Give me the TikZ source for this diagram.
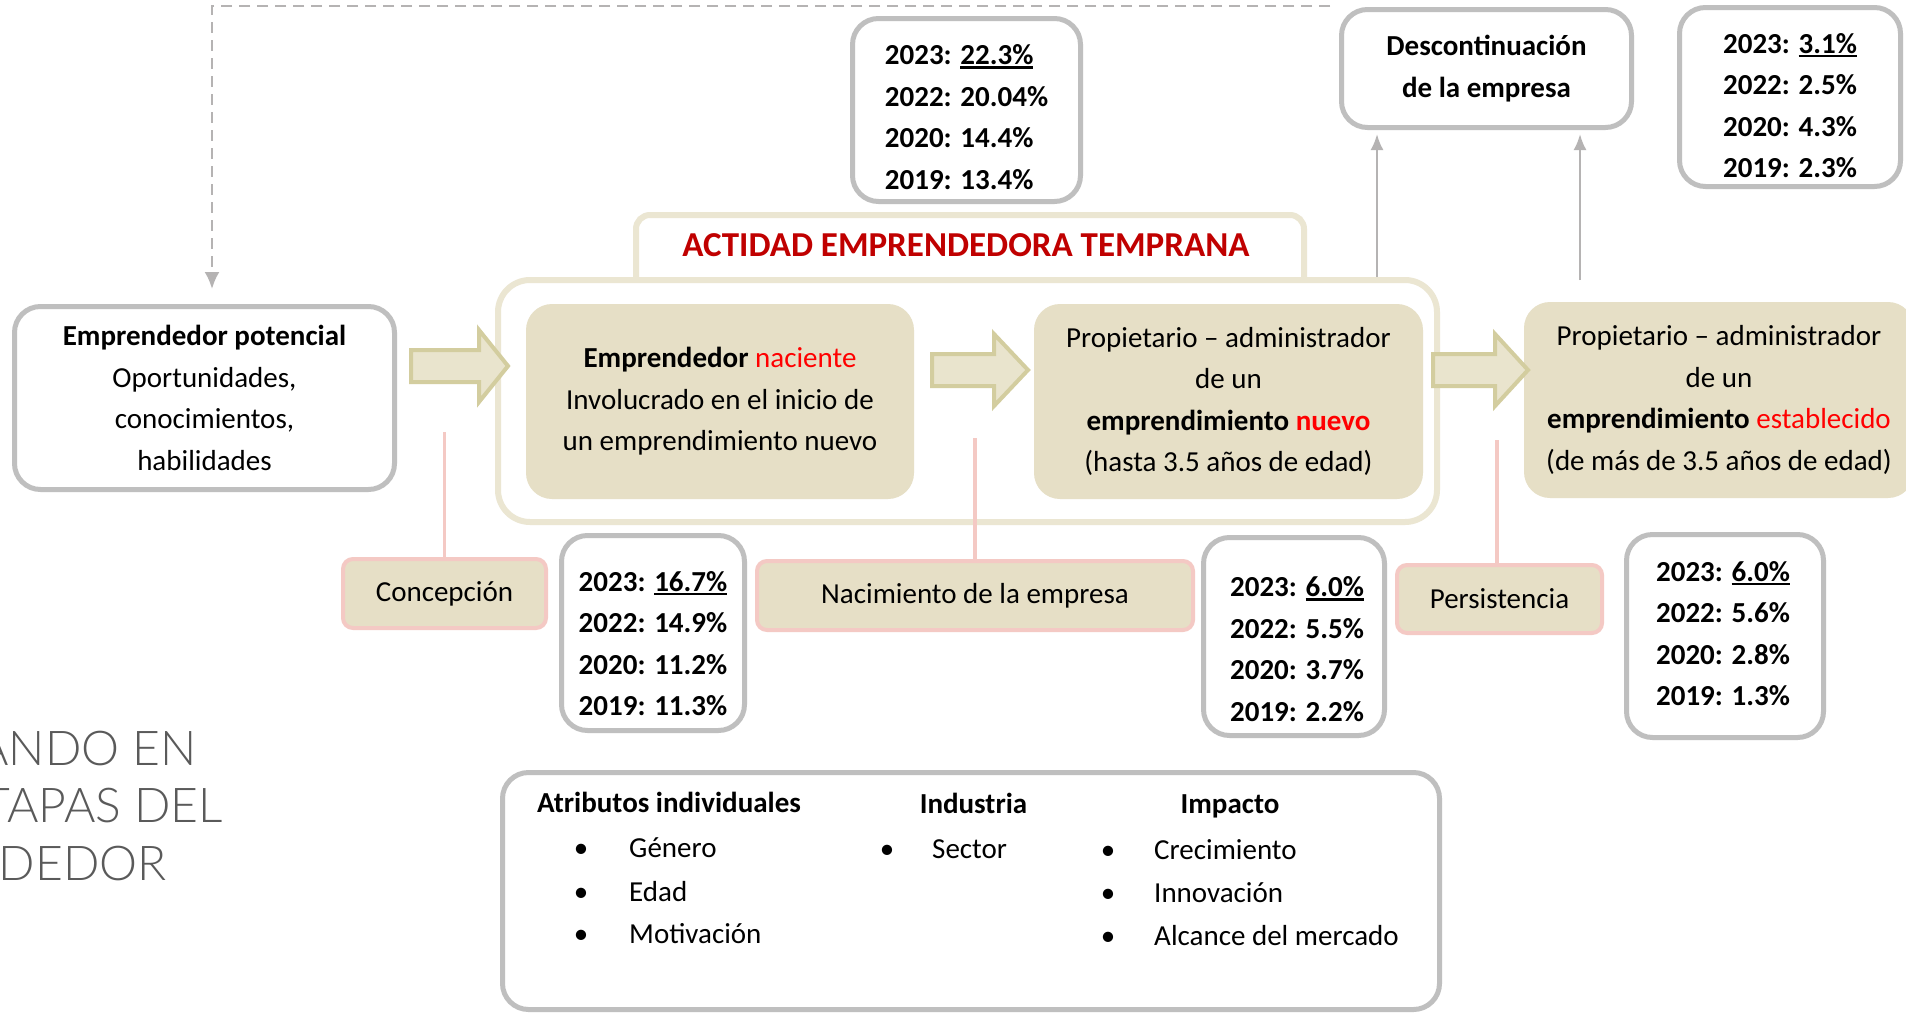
\documentclass[tikz,border=0pt]{standalone}
\usepackage{fontspec}
\setmainfont{Carlito}
\IfFontExistsTF{Lato Light}{\newfontfamily\grayfont{Lato Light}}{\newfontfamily\grayfont{Lato}}
\usetikzlibrary{arrows.meta}
\definecolor{tanfill}{HTML}{E6DFC6}
\definecolor{outerc}{HTML}{EBE6D2}
\definecolor{grayb}{HTML}{BFBFBF}
\definecolor{pinkc}{HTML}{F4C9C4}
\definecolor{arrfill}{HTML}{E9E4CD}
\definecolor{arrdraw}{HTML}{D3CD9F}
\definecolor{titlered}{HTML}{C00000}
\definecolor{brightred}{HTML}{FF0000}
\definecolor{linegray}{HTML}{B5B3B3}
\definecolor{headtxt}{HTML}{5A5A5A}
\newsavebox\myulbox
\newcommand\myul[1]{\sbox\myulbox{#1}\rlap{\rule[-4pt]{\wd\myulbox}{2.2pt}}\usebox\myulbox}
\newcommand\fsz{\fontsize{29}{41.5}\selectfont}
\tikzset{
  graybox/.style={draw=grayb, line width=5pt, rounded corners=26pt, fill=white, inner sep=0pt},
  tanbox/.style={fill=tanfill, rounded corners=26pt, inner sep=0pt, align=center},
  stagebox/.style={fill=tanfill, draw=pinkc, line width=4pt, rounded corners=10pt, inner sep=0pt},
  bigarrow/.style={fill=arrfill, draw=arrdraw, line width=4pt, line join=miter},
  thinarr/.style={draw=linegray, line width=2.5pt, -{Latex[length=16pt,width=13pt]}},
  dashline/.style={draw=linegray, line width=2.5pt, dash pattern=on 11pt off 7pt, -{Latex[length=17pt,width=15pt]}},
  pinkline/.style={draw=pinkc, line width=3.5pt},
  stattxt/.style={align=left, inner sep=0pt, font=\fsz\bfseries},
  itemtxt/.style={anchor=base west, inner sep=0pt},
  bul/.style={anchor=base, inner sep=0pt},
  headtxtst/.style={anchor=base, inner sep=0pt, font=\fsz\bfseries},
  graytxt/.style={anchor=base east, inner sep=0pt, font=\grayfont\fontsize{48}{56}\selectfont, text=headtxt}
}
\begin{document}
\begin{tikzpicture}[x=1pt, y=-1pt, font=\fsz]
\fill[white] (0,0) rectangle (1906,1015);
\useasboundingbox (0,0) rectangle (1906,1015);

% potential entrepreneur
\node[graybox, minimum width=380pt, minimum height=183pt, align=center] (pot) at (204.5,398)
  {\textbf{Emprendedor potencial}\\Oportunidades,\\conocimientos,\\habilidades};

% dashed feedback line
\coordinate (dstart) at (1330,6);
\draw[dashline, shorten >=15pt] (dstart) -| ([xshift=7.5pt]pot.north);

% title tab and outer box
\node[draw=outerc, line width=6pt, rounded corners=14pt, fill=white, minimum width=668pt, minimum height=82pt, inner sep=0pt] (tab) at (970,256) {};
\node[draw=outerc, line width=6pt, rounded corners=32pt, fill=white, minimum width=939pt, minimum height=242pt, inner sep=0pt] (tea) at (967.5,401) {};
\node[font=\fontsize{35}{40}\selectfont\bfseries, text=titlered, inner sep=0pt] (title) at (966,245) {ACTIDAD EMPRENDEDORA TEMPRANA};

% stage boxes
\node[tanbox, minimum width=388pt, minimum height=195pt] (nac) at (720,401.5)
  {\textbf{Emprendedor} \textcolor{brightred}{naciente}\\Involucrado en el inicio de\\un emprendimiento nuevo};
\node[tanbox, minimum width=389pt, minimum height=195pt] (nue) at (1228.5,401.5)
  {Propietario – administrador\\de un\\\textbf{emprendimiento \textcolor{brightred}{nuevo}}\\(hasta 3.5 años de edad)};
\node[tanbox, minimum width=390pt, minimum height=196pt] (est) at (1719,400)
  {Propietario – administrador\\de un\\\textbf{emprendimiento} \textcolor{brightred}{establecido}\\(de más de 3.5 años de edad)};

% block arrows
\draw[bigarrow] (411,350) -- (479,350) -- (479,330) -- (508,366) -- (479,402) -- (479,382) -- (411,382) -- cycle;
\draw[bigarrow] (932,354) -- (994,354) -- (994,334) -- (1028,370) -- (994,406) -- (994,386) -- (932,386) -- cycle;
\draw[bigarrow] (1433,354) -- (1495,354) -- (1495,334) -- (1528,370) -- (1495,406) -- (1495,386) -- (1433,386) -- cycle;

% discontinuation
\node[graybox, minimum width=290pt, minimum height=118pt, align=center, font=\fsz\bfseries] (desc) at (1486.5,68.5)
  {Descontinuación\\de la empresa};
\coordinate (d1) at (1377,277);
\coordinate (d2) at (1580,280);
\draw[thinarr, shorten >=4pt] (d1) -- (d1 |- desc.south);
\draw[thinarr, shorten >=4pt] (d2) -- (d2 |- desc.south);

% statistics boxes
\node[graybox, minimum width=228pt, minimum height=183pt] (s0) at (966.5,110) {};
\node[stattxt] (s0t) at (966.5,117) {2023: \myul{22.3\%}\\2022: 20.04\%\\2020: 14.4\%\\2019: 13.4\%};
\node[graybox, minimum width=221pt, minimum height=179pt] (s4) at (1790,97) {};
\node[stattxt] (s4t) at (1790,105.5) {2023: \myul{3.1\%}\\2022: 2.5\%\\2020: 4.3\%\\2019: 2.3\%};

% pink connector lines
\coordinate (c1) at (444.5,432);
\coordinate (c2) at (975,438);
\coordinate (c3) at (1497,440);

\node[stagebox, minimum width=203pt, minimum height=69pt] (con) at (444.5,593.5) {Concepción};
\node[stagebox, minimum width=436pt, minimum height=69pt] (nacim) at (975,595.5) {Nacimiento de la empresa};
\node[stagebox, minimum width=205pt, minimum height=68pt] (per) at (1499.5,599) {Persistencia};
\draw[pinkline] (c1) -- (c1 |- con.north);
\draw[pinkline] (c2) -- (c2 |- nacim.north);
\draw[pinkline] (c3) -- (c3 |- per.north);

\node[graybox, minimum width=183pt, minimum height=195pt] (s1) at (653,633) {};
\node[stattxt] (s1t) at (653,643.5) {2023: \myul{16.7\%}\\2022: 14.9\%\\2020: 11.2\%\\2019: 11.3\%};
\node[graybox, minimum width=181pt, minimum height=198pt] (s2) at (1294,636.5) {};
\node[stattxt] (s2t) at (1297,649) {2023: \myul{6.0\%}\\2022: 5.5\%\\2020: 3.7\%\\2019: 2.2\%};
\node[graybox, minimum width=197pt, minimum height=203pt] (s3) at (1725,636) {};
\node[stattxt] (s3t) at (1723,633.5) {2023: \myul{6.0\%}\\2022: 5.6\%\\2020: 2.8\%\\2019: 1.3\%};

% attributes box
\node[graybox, minimum width=937pt, minimum height=237pt] (attr) at (971,891) {};
\node[headtxtst] (h1) at (669,812) {Atributos individuales};
\node[headtxtst] (h2) at (973.5,813) {Industria};
\node[headtxtst] (h3) at (1230,813) {Impacto};
\node[bul] (b1) at (581,857) {•};
\node[bul] (b2) at (581,901) {•};
\node[bul] (b3) at (581,943) {•};
\node[itemtxt] (i1) at (629,857) {Género};
\node[itemtxt] (i2) at (629,901) {Edad};
\node[itemtxt] (i3) at (629,943) {Motivación};
\node[bul] (b4) at (887,858) {•};
\node[itemtxt] (i4) at (932,858) {Sector};
\node[bul] (b5) at (1108,859) {•};
\node[bul] (b6) at (1108,902) {•};
\node[bul] (b7) at (1108,945) {•};
\node[itemtxt] (i5) at (1154,859) {Crecimiento};
\node[itemtxt] (i6) at (1154,902) {Innovación};
\node[itemtxt] (i7) at (1154,945) {Alcance del mercado};

% partial heading text at the left
\node[graytxt] (g1) at (197,765) {ANDO EN};
\node[graytxt] (g2) at (223,822) {TAPAS DEL};
\node[graytxt] (g3) at (167,880) {DEDOR};
\end{tikzpicture}
\end{document}
